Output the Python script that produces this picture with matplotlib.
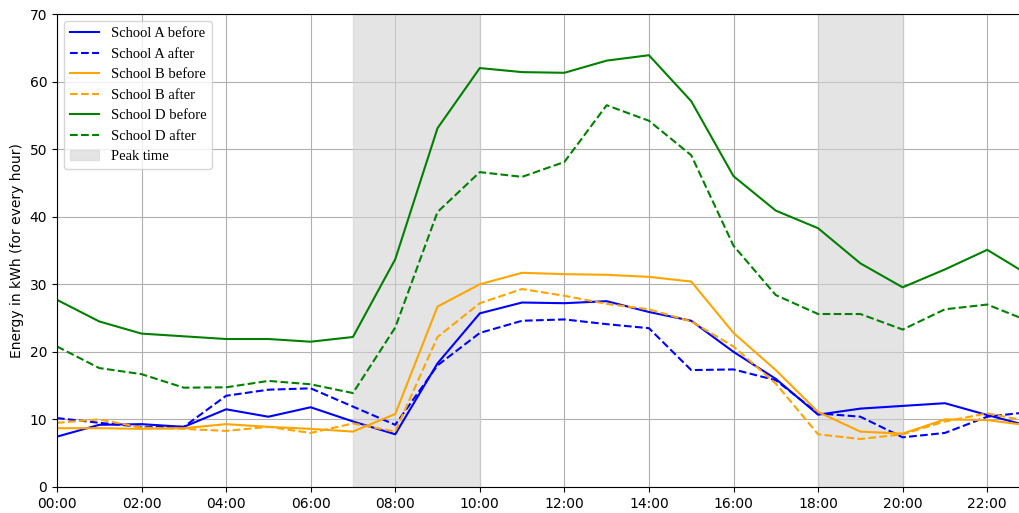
import numpy as np
import matplotlib
matplotlib.use('Agg')
import matplotlib.pyplot as plt

# hourly readings, 00:00 .. 23:00
hours = np.arange(24)

school_a_before = [7.45, 9.2, 9.3, 8.9, 11.5, 10.4, 11.8, 9.7, 7.8, 18.3, 25.7, 27.3,
                   27.2, 27.5, 25.9, 24.6, 20.0, 16.0, 10.7, 11.6, 12.0, 12.4, 10.65, 9.0]
school_a_after = [10.2, 9.5, 8.9, 8.9, 13.5, 14.4, 14.6, 11.9, 9.2, 18.0, 22.8, 24.6,
                  24.8, 24.1, 23.5, 17.3, 17.4, 15.8, 10.9, 10.4, 7.35, 8.0, 10.4, 11.1]
school_b_before = [8.7, 8.7, 8.6, 8.7, 9.3, 8.9, 8.6, 8.2, 10.8, 26.7, 30.0, 31.7,
                   31.5, 31.4, 31.1, 30.4, 22.8, 17.3, 11.1, 8.2, 7.9, 10.0, 9.9, 9.1]
school_b_after = [9.5, 10.0, 8.8, 8.6, 8.3, 8.9, 8.0, 9.4, 8.2, 22.2, 27.2, 29.3,
                  28.3, 27.1, 26.3, 24.5, 20.8, 15.3, 7.8, 7.1, 7.8, 9.7, 10.9, 9.7]
school_d_before = [27.7, 24.5, 22.7, 22.3, 21.9, 21.9, 21.5, 22.2, 33.7, 53.1, 62.0, 61.4,
                   61.3, 63.1, 63.9, 57.1, 46.0, 40.9, 38.3, 33.1, 29.55, 32.2, 35.1, 31.3]
school_d_after = [20.8, 17.6, 16.7, 14.7, 14.75, 15.7, 15.2, 13.9, 23.6, 40.7, 46.6, 45.9,
                  48.1, 56.5, 54.2, 49.1, 35.7, 28.4, 25.6, 25.6, 23.3, 26.3, 27.0, 24.5]

peak_times = [(7, 10), (18, 20)]
tick_hours = list(range(0, 24, 2))
tick_labels = [f"{h:02d}:00" for h in tick_hours]

fig = plt.figure(figsize=(10.19, 5.13), dpi=100)
ax = fig.add_axes([0.0559, 0.0507, 0.9544, 0.922])

ax.plot(hours, school_a_before, color='blue', label='School A before')
ax.plot(hours, school_a_after, color='blue', linestyle='--', label='School A after')
ax.plot(hours, school_b_before, color='orange', label='School B before')
ax.plot(hours, school_b_after, color='orange', linestyle='--', label='School B after')
ax.plot(hours, school_d_before, color='green', label='School D before')
ax.plot(hours, school_d_after, color='green', linestyle='--', label='School D after')

# shaded peak hours
for i, (start, end) in enumerate(peak_times):
    ax.axvspan(start, end, color='lightgray', alpha=0.6, zorder=1.6,
               label='Peak time' if i == 0 else None)

ax.set_xlim(0, 23)
ax.set_ylim(0, 70)
ax.set_xticks(tick_hours)
ax.set_xticklabels(tick_labels)
ax.set_ylabel('Energy in kWh (for every hour)')
ax.grid(True)

ax.legend(loc='upper left', prop={'family': 'Liberation Serif', 'size': 10.5})

plt.savefig('out.png', dpi=100)
plt.close()
